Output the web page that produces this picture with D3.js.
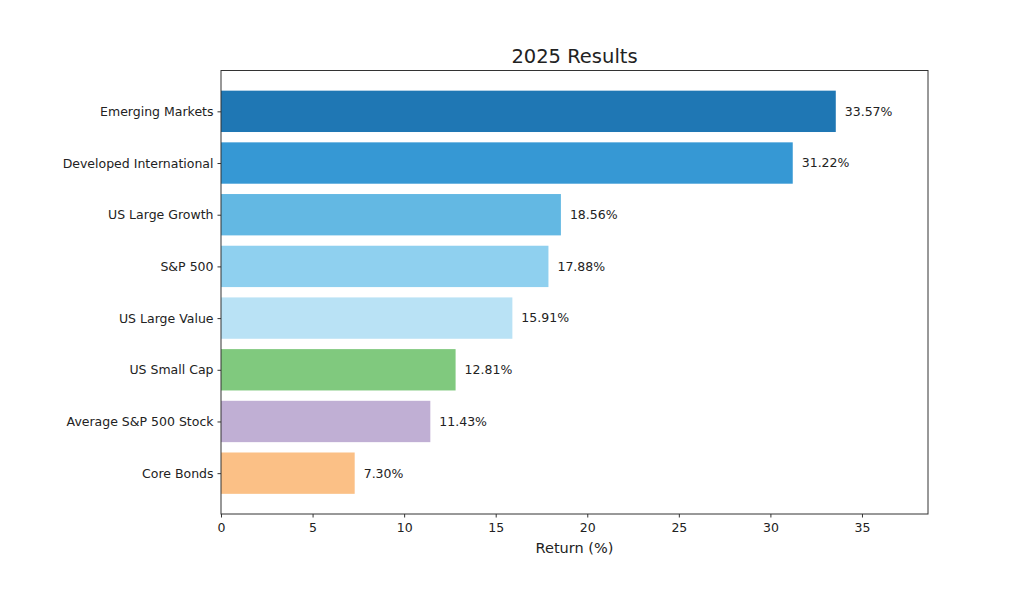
<!DOCTYPE html>
<html><head><meta charset="utf-8">
<script src="https://cdn.jsdelivr.net/npm/d3@7"></script>
<style>body{margin:0;background:#fff;}svg{display:block;font-family:"DejaVu Sans",sans-serif;}</style>
</head><body>
<svg id="c" width="1024" height="600"></svg>
<script>
const categories = ["Emerging Markets","Developed International","US Large Growth","S&P 500","US Large Value","US Small Cap","Average S&P 500 Stock","Core Bonds"];
const returns = [33.57,31.22,18.56,17.88,15.91,12.81,11.43,7.30];
const colors = ["#1f77b4","#3698d4","#63b8e3","#8fd0ef","#b9e2f5","#80c97e","#c0afd4","#fbc086"];
const xTicks = [0,5,10,15,20,25,30,35];
const title = "2025 Results";
const xLabel = "Return (%)";

const svg = d3.select("#c");
const L=221, R=928, T=70.5, B=514;
const x = d3.scaleLinear().domain([0, d3.max(returns)*1.15]).range([L,R]);
const y = d3.scaleLinear().domain([-0.79, 7.79]).range([T,B]);
const bh = y(0.8)-y(0);

svg.selectAll("rect.bar").data(returns).enter().append("rect")
  .attr("class","bar")
  .attr("x", x(0))
  .attr("y",(d,i)=>y(i-0.4))
  .attr("width", d=>x(d)-x(0))
  .attr("height", bh)
  .attr("fill",(d,i)=>colors[i]);

svg.selectAll("text.val").data(returns).enter().append("text")
  .attr("class","val")
  .attr("x", d=>x(d)+9)
  .attr("y",(d,i)=>y(i))
  .attr("dy","0.35em")
  .attr("font-size",12.5).attr("fill","#222")
  .text(d=>d.toFixed(2)+"%");

const xAxis = svg.append("g").attr("transform",`translate(0,${B})`)
  .call(d3.axisBottom(x).tickValues(xTicks).tickSize(3.5).tickPadding(6));
xAxis.select(".domain").remove();
xAxis.selectAll("text").attr("font-size",12.5).attr("fill","#222").attr("font-family","DejaVu Sans");
xAxis.selectAll("line").attr("stroke","#333");

const yAxis = svg.append("g").attr("transform",`translate(${L},0)`)
  .call(d3.axisLeft(y).tickValues(d3.range(categories.length)).tickFormat(i=>categories[i]).tickSize(3.5).tickPadding(4));
yAxis.select(".domain").remove();
yAxis.selectAll("text").attr("font-size",12.5).attr("fill","#222").attr("font-family","DejaVu Sans");
yAxis.selectAll("line").attr("stroke","#333");

svg.append("rect").attr("x",L).attr("y",T).attr("width",R-L).attr("height",B-T)
  .attr("fill","none").attr("stroke","#333").attr("stroke-width",1);

svg.append("text").attr("x",(L+R)/2).attr("y",T-8).attr("text-anchor","middle")
  .attr("font-size",19.5).attr("fill","#222").text(title);
svg.append("text").attr("x",(L+R)/2).attr("y",553).attr("text-anchor","middle")
  .attr("font-size",14.5).attr("fill","#222").text(xLabel);
</script>
</body></html>
